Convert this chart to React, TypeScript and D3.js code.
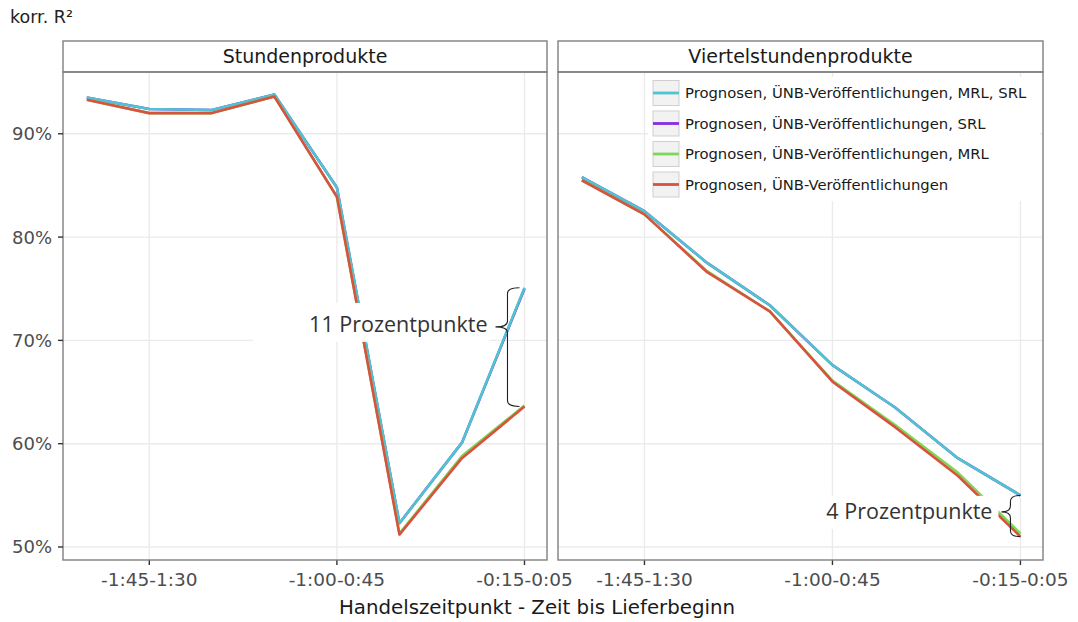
import React from 'react';
import * as d3 from 'd3';

const categories = ["-2:00-1:45", "-1:45-1:30", "-1:30-1:15", "-1:15-1:00", "-1:00-0:45", "-0:45-0:30", "-0:30-0:15", "-0:15-0:05"];
const tickIndices = [1, 4, 7];
const panelNames = ["Stundenprodukte", "Viertelstundenprodukte"];
const seriesNames = [
  "Prognosen, ÜNB-Veröffentlichungen, MRL, SRL",
  "Prognosen, ÜNB-Veröffentlichungen, SRL",
  "Prognosen, ÜNB-Veröffentlichungen, MRL",
  "Prognosen, ÜNB-Veröffentlichungen",
];
const seriesColors = ["#4fc4d0", "#8a2be2", "#7dd855", "#d9513f"];

// Stundenprodukte
const stdMrlSrl = [93.5, 92.4, 92.3, 93.8, 84.8, 52.3, 60.1, 75.1];
const stdSrl = [93.5, 92.4, 92.3, 93.8, 84.8, 52.3, 60.1, 75.0];
const stdMrl = [93.3, 92.0, 92.0, 93.6, 83.9, 51.3, 58.8, 63.7];
const stdBase = [93.3, 92.0, 92.0, 93.6, 83.9, 51.2, 58.6, 63.6];
// Viertelstundenprodukte
const vstMrlSrl = [85.8, 82.5, 77.5, 73.4, 67.6, 63.5, 58.6, 55.0];
const vstSrl = [85.8, 82.5, 77.5, 73.4, 67.6, 63.5, 58.6, 55.0];
const vstMrl = [85.5, 82.2, 76.7, 72.8, 66.1, 61.8, 57.2, 51.3];
const vstBase = [85.5, 82.2, 76.6, 72.8, 66.0, 61.6, 56.9, 51.0];

const yTicks = [50, 60, 70, 80, 90];
const annotations = ["11 Prozentpunkte", "4 Prozentpunkte"];

const panelData = [
  [stdMrlSrl, stdSrl, stdMrl, stdBase],
  [vstMrlSrl, vstSrl, vstMrl, vstBase],
];
const drawOrder = [1, 0, 2, 3];

const FONT = "DejaVu Sans, sans-serif";
const ANNO_FONT = "'Open Sans', sans-serif";

function bracePath(sx: number, y1: number, y2: number, tipY: number, w: number, h: number) {
  const r = 6;
  return `M${sx + h},${y1} Q${sx},${y1} ${sx},${y1 + r} L${sx},${tipY - r} Q${sx},${tipY} ${sx - w},${tipY} Q${sx},${tipY} ${sx},${tipY + r} L${sx},${y2 - r} Q${sx},${y2} ${sx + h},${y2}`;
}

export default function App() {
  const W = 1078, H = 622;
  const top = 72, bottom = 560, stripTop = 41;
  const panelX: [number, number][] = [[63, 547], [558, 1043]];
  const y = d3.scaleLinear().domain([48.74, 95.98]).range([bottom, top]);
  const xScales = panelX.map(([a, b]) => d3.scaleLinear().domain([-0.38, 7.36]).range([a, b]));
  const line = (xs: d3.ScaleLinear<number, number>) =>
    d3.line<number>().x((_, i) => xs(i)).y((v) => y(v));

  const gridColor = "#ebebeb";
  const borderColor = "#7f7f7f";

  const x1 = xScales[0](7);
  const a1Top = y(stdMrlSrl[7]);
  const a1Bot = y(stdBase[7]);
  const a1Spine = x1 - 17;
  const a1Tip = a1Top + (a1Bot - a1Top) * 0.33;
  const x2 = xScales[1](7);
  const a2Top = y(vstMrlSrl[7]);
  const a2Bot = y(vstBase[7]);
  const a2Spine = x2 - 10;
  const a2Tip = a2Top + (a2Bot - a2Top) * 0.4;

  return (
    <svg width={W} height={H} style={{ position: 'absolute', left: 0, top: 0, background: '#fff' }}>
      <rect x={0} y={0} width={W} height={H} fill="#fff" />
      <text x={10} y={23} fontFamily={FONT} fontSize={17.5} fill="#222">korr. R²</text>

      {panelX.map(([a, b], p) => {
        const xs = xScales[p];
        return (
          <g key={p}>
            {yTicks.map((t) => (
              <line key={'h' + t} x1={a} x2={b} y1={y(t)} y2={y(t)} stroke={gridColor} strokeWidth={1.4} />
            ))}
            {tickIndices.map((i) => (
              <line key={'v' + i} x1={xs(i)} x2={xs(i)} y1={top} y2={bottom} stroke={gridColor} strokeWidth={1.4} />
            ))}
            {drawOrder.map((s) => (
              <path key={s} d={line(xs)(panelData[p][s]) || ''} fill="none" stroke={seriesColors[s]} strokeWidth={2.6} strokeLinejoin="round" />
            ))}
            <rect x={a} y={stripTop} width={b - a} height={top - stripTop} fill="#fff" stroke={borderColor} strokeWidth={1.4} />
            <text x={(a + b) / 2} y={top - 9} textAnchor="middle" fontFamily={FONT} fontSize={19} fill="#1a1a1a">{panelNames[p]}</text>
            {tickIndices.map((i) => (
              <g key={'xt' + i}>
                <line x1={xs(i)} x2={xs(i)} y1={bottom} y2={bottom + 5} stroke="#333" strokeWidth={1.4} />
                <text x={xs(i)} y={bottom + 26} textAnchor="middle" fontFamily={FONT} fontSize={18.5} fill="#4d4d4d">{categories[i]}</text>
              </g>
            ))}
          </g>
        );
      })}

      {/* legend */}
      <rect x={648} y={77} width={392} height={124} fill="#fff" />
      {seriesNames.map((n, i) => {
        const cy = 93 + i * 30.5;
        return (
          <g key={n}>
            <rect x={653} y={cy - 12.5} width={26} height={25} fill="#f2f2f2" stroke="#cfcfcf" strokeWidth={1} />
            <line x1={653} x2={679} y1={cy} y2={cy} stroke={seriesColors[i]} strokeWidth={2.8} />
            <text x={685} y={cy + 5.3} fontFamily={FONT} fontSize={14.8} fill="#1a1a1a">{n}</text>
          </g>
        );
      })}

      {/* annotations */}
      <rect x={253} y={a1Tip - 24} width={a1Spine - 18 - 253} height={39} fill="#fff" />
      <text x={a1Spine - 20} y={a1Tip + 5} textAnchor="end" fontFamily={ANNO_FONT} fontSize={21.5} fill="#333">{annotations[0]}</text>
      <path d={bracePath(a1Spine, a1Top, a1Bot, a1Tip, 12, 12)} fill="none" stroke="#222" strokeWidth={1.1} />

      <rect x={795} y={a2Top + 0.5} width={a2Spine - 12 - 795} height={33} fill="#fff" />
      <text x={a2Spine - 18} y={a2Tip + 7} textAnchor="end" fontFamily={ANNO_FONT} fontSize={21.5} fill="#333">{annotations[1]}</text>
      <path d={bracePath(a2Spine, a2Top, a2Bot, a2Tip, 9, 10)} fill="none" stroke="#222" strokeWidth={1.1} />

      {panelX.map(([a, b], p) => (
        <rect key={'b' + p} x={a} y={top} width={b - a} height={bottom - top} fill="none" stroke={borderColor} strokeWidth={1.4} />
      ))}

      {yTicks.map((t) => (
        <g key={'yt' + t}>
          <line x1={58} x2={63} y1={y(t)} y2={y(t)} stroke="#333" strokeWidth={1.4} />
          <text x={52} y={y(t) + 6.5} textAnchor="end" fontFamily={FONT} fontSize={18} fill="#4d4d4d">{t}%</text>
        </g>
      ))}

      <text x={537} y={614} textAnchor="middle" fontFamily={FONT} fontSize={19.8} fill="#1a1a1a">Handelszeitpunkt - Zeit bis Lieferbeginn</text>
    </svg>
  );
}
